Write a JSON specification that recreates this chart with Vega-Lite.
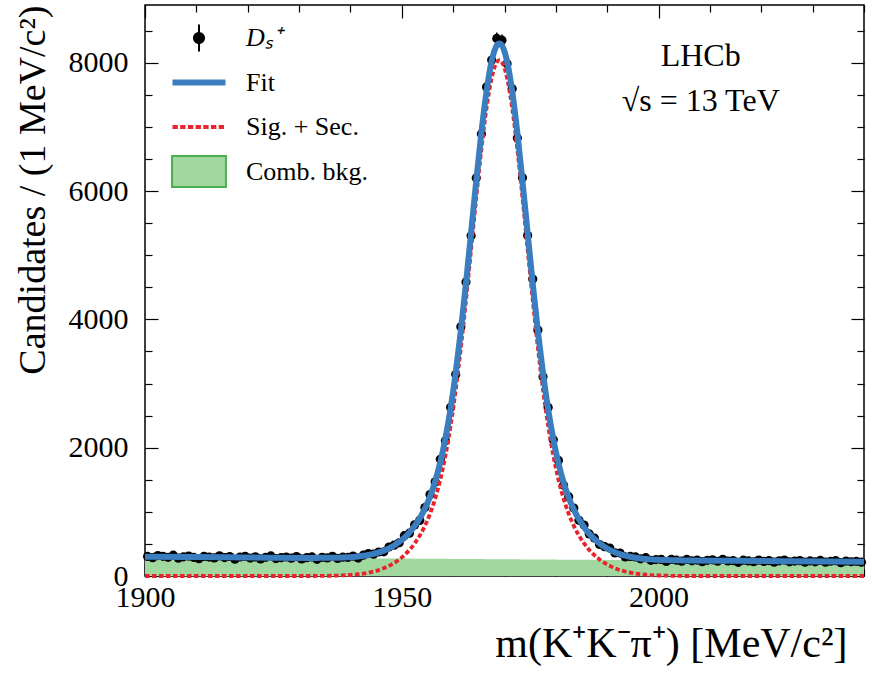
{
  "$schema": "https://vega.github.io/schema/vega-lite/v6.json",
  "width": 719,
  "height": 571,
  "autosize": "none",
  "padding": {"left": 145, "top": 5, "right": 8, "bottom": 103},
  "background": "white",
  "datasets": {
    "bins": [
      {"m":1900.5,"n":305,"err":17},{"m":1901.5,"n":285,"err":17},{"m":1902.5,"n":319,"err":18},{"m":1903.5,"n":307,"err":18},{"m":1904.5,"n":291,"err":17},
      {"m":1905.5,"n":324,"err":18},{"m":1906.5,"n":277,"err":17},{"m":1907.5,"n":299,"err":17},{"m":1908.5,"n":311,"err":18},{"m":1909.5,"n":290,"err":17},
      {"m":1910.5,"n":270,"err":16},{"m":1911.5,"n":306,"err":17},{"m":1912.5,"n":295,"err":17},{"m":1913.5,"n":282,"err":17},{"m":1914.5,"n":314,"err":18},
      {"m":1915.5,"n":288,"err":17},{"m":1916.5,"n":304,"err":17},{"m":1917.5,"n":261,"err":16},{"m":1918.5,"n":296,"err":17},{"m":1919.5,"n":306,"err":17},
      {"m":1920.5,"n":280,"err":17},{"m":1921.5,"n":298,"err":17},{"m":1922.5,"n":267,"err":16},{"m":1923.5,"n":292,"err":17},{"m":1924.5,"n":312,"err":18},
      {"m":1925.5,"n":271,"err":16},{"m":1926.5,"n":285,"err":17},{"m":1927.5,"n":296,"err":17},{"m":1928.5,"n":277,"err":17},{"m":1929.5,"n":302,"err":17},
      {"m":1930.5,"n":266,"err":16},{"m":1931.5,"n":286,"err":17},{"m":1932.5,"n":297,"err":17},{"m":1933.5,"n":260,"err":16},{"m":1934.5,"n":291,"err":17},
      {"m":1935.5,"n":282,"err":17},{"m":1936.5,"n":308,"err":18},{"m":1937.5,"n":274,"err":17},{"m":1938.5,"n":294,"err":17},{"m":1939.5,"n":289,"err":17},
      {"m":1940.5,"n":311,"err":18},{"m":1941.5,"n":279,"err":17},{"m":1942.5,"n":325,"err":18},{"m":1943.5,"n":349,"err":19},{"m":1944.5,"n":340,"err":18},
      {"m":1945.5,"n":374,"err":19},{"m":1946.5,"n":377,"err":19},{"m":1947.5,"n":452,"err":21},{"m":1948.5,"n":480,"err":22},{"m":1949.5,"n":517,"err":23},
      {"m":1950.5,"n":629,"err":25},{"m":1951.5,"n":668,"err":26},{"m":1952.5,"n":797,"err":28},{"m":1953.5,"n":867,"err":29},{"m":1954.5,"n":1067,"err":33},
      {"m":1955.5,"n":1270,"err":36},{"m":1956.5,"n":1467,"err":38},{"m":1957.5,"n":1818,"err":43},{"m":1958.5,"n":2108,"err":46},{"m":1959.5,"n":2628,"err":51},
      {"m":1960.5,"n":3139,"err":56},{"m":1961.5,"n":3886,"err":62},{"m":1962.5,"n":4583,"err":68},{"m":1963.5,"n":5304,"err":73},{"m":1964.5,"n":6205,"err":79},
      {"m":1965.5,"n":6888,"err":83},{"m":1966.5,"n":7623,"err":87},{"m":1967.5,"n":8041,"err":90},{"m":1968.5,"n":8379,"err":92},{"m":1969.5,"n":8351,"err":91},
      {"m":1970.5,"n":7986,"err":89},{"m":1971.5,"n":7595,"err":87},{"m":1972.5,"n":6826,"err":83},{"m":1973.5,"n":6208,"err":79},{"m":1974.5,"n":5306,"err":73},
      {"m":1975.5,"n":4629,"err":68},{"m":1976.5,"n":3834,"err":62},{"m":1977.5,"n":3107,"err":56},{"m":1978.5,"n":2628,"err":51},{"m":1979.5,"n":2124,"err":46},
      {"m":1980.5,"n":1801,"err":42},{"m":1981.5,"n":1415,"err":38},{"m":1982.5,"n":1237,"err":35},{"m":1983.5,"n":1060,"err":33},{"m":1984.5,"n":868,"err":29},
      {"m":1985.5,"n":795,"err":28},{"m":1986.5,"n":656,"err":26},{"m":1987.5,"n":591,"err":24},{"m":1988.5,"n":491,"err":22},{"m":1989.5,"n":457,"err":21},
      {"m":1990.5,"n":436,"err":21},{"m":1991.5,"n":359,"err":19},{"m":1992.5,"n":357,"err":19},{"m":1993.5,"n":298,"err":17},{"m":1994.5,"n":305,"err":17},
      {"m":1995.5,"n":297,"err":17},{"m":1996.5,"n":268,"err":16},{"m":1997.5,"n":285,"err":17},{"m":1998.5,"n":245,"err":16},{"m":1999.5,"n":256,"err":16},
      {"m":2000.5,"n":259,"err":16},{"m":2001.5,"n":228,"err":15},{"m":2002.5,"n":258,"err":16},{"m":2003.5,"n":247,"err":16},{"m":2004.5,"n":232,"err":15},
      {"m":2005.5,"n":258,"err":16},{"m":2006.5,"n":236,"err":15},{"m":2007.5,"n":249,"err":16},{"m":2008.5,"n":224,"err":15},{"m":2009.5,"n":245,"err":16},
      {"m":2010.5,"n":252,"err":16},{"m":2011.5,"n":230,"err":15},{"m":2012.5,"n":260,"err":16},{"m":2013.5,"n":234,"err":15},{"m":2014.5,"n":241,"err":16},
      {"m":2015.5,"n":214,"err":15},{"m":2016.5,"n":246,"err":16},{"m":2017.5,"n":235,"err":15},{"m":2018.5,"n":222,"err":15},{"m":2019.5,"n":249,"err":16},
      {"m":2020.5,"n":228,"err":15},{"m":2021.5,"n":241,"err":16},{"m":2022.5,"n":215,"err":15},{"m":2023.5,"n":237,"err":15},{"m":2024.5,"n":249,"err":16},
      {"m":2025.5,"n":221,"err":15},{"m":2026.5,"n":233,"err":15},{"m":2027.5,"n":241,"err":16},{"m":2028.5,"n":215,"err":15},{"m":2029.5,"n":235,"err":15},
      {"m":2030.5,"n":221,"err":15},{"m":2031.5,"n":243,"err":16},{"m":2032.5,"n":216,"err":15},{"m":2033.5,"n":230,"err":15},{"m":2034.5,"n":239,"err":15},
      {"m":2035.5,"n":207,"err":14},{"m":2036.5,"n":233,"err":15},{"m":2037.5,"n":222,"err":15},{"m":2038.5,"n":229,"err":15},{"m":2039.5,"n":215,"err":15}
    ],
    "model": [
      {"m":1900,"bkg":300.0,"sig":0,"fit":300.0},{"m":1910,"bkg":294.4,"sig":0,"fit":294.4},{"m":1920,"bkg":288.9,"sig":0,"fit":288.9},
      {"m":1932.5,"bkg":281.9,"sig":0,"fit":281.9},{"m":1933.5,"bkg":281.3,"sig":1,"fit":282.3},{"m":1934.5,"bkg":280.8,"sig":2,"fit":282.8},
      {"m":1935.5,"bkg":280.2,"sig":3,"fit":283.2},{"m":1936.5,"bkg":279.6,"sig":5,"fit":284.6},{"m":1937.5,"bkg":279.1,"sig":7,"fit":286.1},
      {"m":1938.5,"bkg":278.5,"sig":10,"fit":288.5},{"m":1939.5,"bkg":278.0,"sig":14,"fit":292.0},{"m":1940.5,"bkg":277.4,"sig":20,"fit":297.4},
      {"m":1941.5,"bkg":276.9,"sig":28,"fit":304.9},{"m":1942.5,"bkg":276.3,"sig":38,"fit":314.3},{"m":1943.5,"bkg":275.7,"sig":52,"fit":327.7},
      {"m":1944.5,"bkg":275.2,"sig":70,"fit":345.2},{"m":1945.5,"bkg":274.6,"sig":92,"fit":366.6},{"m":1946.5,"bkg":274.1,"sig":121,"fit":395.1},
      {"m":1947.5,"bkg":273.5,"sig":158,"fit":431.5},{"m":1948.5,"bkg":273.0,"sig":203,"fit":476.0},{"m":1949.5,"bkg":272.4,"sig":258,"fit":530.4},
      {"m":1950.5,"bkg":271.9,"sig":325,"fit":596.9},{"m":1951.5,"bkg":271.3,"sig":407,"fit":678.3},{"m":1952.5,"bkg":270.7,"sig":507,"fit":777.7},
      {"m":1953.5,"bkg":270.2,"sig":630,"fit":900.2},{"m":1954.5,"bkg":269.6,"sig":781,"fit":1050.6},{"m":1955.5,"bkg":269.1,"sig":969,"fit":1238.1},
      {"m":1956.5,"bkg":268.5,"sig":1206,"fit":1474.5},{"m":1957.5,"bkg":268.0,"sig":1504,"fit":1772.0},{"m":1958.5,"bkg":267.4,"sig":1878,"fit":2145.4},
      {"m":1959.5,"bkg":266.8,"sig":2341,"fit":2607.8},{"m":1960.5,"bkg":266.3,"sig":2901,"fit":3167.3},{"m":1961.5,"bkg":265.7,"sig":3558,"fit":3823.7},
      {"m":1962.5,"bkg":265.2,"sig":4297,"fit":4562.2},{"m":1963.5,"bkg":264.6,"sig":5091,"fit":5355.6},{"m":1964.5,"bkg":264.1,"sig":5894,"fit":6158.1},
      {"m":1965.5,"bkg":263.5,"sig":6649,"fit":6912.5},{"m":1966.5,"bkg":262.9,"sig":7291,"fit":7553.9},{"m":1967.5,"bkg":262.4,"sig":7761,"fit":8023.4},
      {"m":1968.5,"bkg":261.8,"sig":8008,"fit":8269.8},{"m":1969,"bkg":261.5,"sig":8040,"fit":8301.5},{"m":1969.5,"bkg":261.3,"sig":8008,"fit":8269.3},
      {"m":1970.5,"bkg":260.7,"sig":7761,"fit":8021.7},{"m":1971.5,"bkg":260.2,"sig":7291,"fit":7551.2},{"m":1972.5,"bkg":259.6,"sig":6649,"fit":6908.6},
      {"m":1973.5,"bkg":259.0,"sig":5894,"fit":6153.0},{"m":1974.5,"bkg":258.5,"sig":5091,"fit":5349.5},{"m":1975.5,"bkg":257.9,"sig":4297,"fit":4554.9},
      {"m":1976.5,"bkg":257.4,"sig":3558,"fit":3815.4},{"m":1977.5,"bkg":256.8,"sig":2901,"fit":3157.8},{"m":1978.5,"bkg":256.3,"sig":2341,"fit":2597.3},
      {"m":1979.5,"bkg":255.7,"sig":1878,"fit":2133.7},{"m":1980.5,"bkg":255.1,"sig":1504,"fit":1759.1},{"m":1981.5,"bkg":254.6,"sig":1206,"fit":1460.6},
      {"m":1982.5,"bkg":254.0,"sig":969,"fit":1223.0},{"m":1983.5,"bkg":253.5,"sig":781,"fit":1034.5},{"m":1984.5,"bkg":252.9,"sig":630,"fit":882.9},
      {"m":1985.5,"bkg":252.4,"sig":507,"fit":759.4},{"m":1986.5,"bkg":251.8,"sig":407,"fit":658.8},{"m":1987.5,"bkg":251.2,"sig":325,"fit":576.2},
      {"m":1988.5,"bkg":250.7,"sig":258,"fit":508.7},{"m":1989.5,"bkg":250.1,"sig":203,"fit":453.1},{"m":1990.5,"bkg":249.6,"sig":158,"fit":407.6},
      {"m":1991.5,"bkg":249.0,"sig":121,"fit":370.0},{"m":1992.5,"bkg":248.5,"sig":92,"fit":340.5},{"m":1993.5,"bkg":247.9,"sig":70,"fit":317.9},
      {"m":1994.5,"bkg":247.3,"sig":52,"fit":299.3},{"m":1995.5,"bkg":246.8,"sig":38,"fit":284.8},{"m":1996.5,"bkg":246.2,"sig":28,"fit":274.2},
      {"m":1997.5,"bkg":245.7,"sig":20,"fit":265.7},{"m":1998.5,"bkg":245.1,"sig":14,"fit":259.1},{"m":1999.5,"bkg":244.6,"sig":10,"fit":254.6},
      {"m":2000.5,"bkg":244.0,"sig":7,"fit":251.0},{"m":2001.5,"bkg":243.4,"sig":5,"fit":248.4},{"m":2002.5,"bkg":242.9,"sig":3,"fit":245.9},
      {"m":2003.5,"bkg":242.3,"sig":2,"fit":244.3},{"m":2004.5,"bkg":241.8,"sig":1,"fit":242.8},{"m":2005.5,"bkg":241.2,"sig":0,"fit":241.2},
      {"m":2015,"bkg":235.9,"sig":0,"fit":235.9},{"m":2025,"bkg":230.4,"sig":0,"fit":230.4},{"m":2040,"bkg":222.0,"sig":0,"fit":222.0}
    ],
    "items": [
      {"item": "Dₛ⁺"}, {"item": "Fit"}, {"item": "Sig. + Sec."}, {"item": "Comb. bkg."}
    ]
  },
  "layer": [
    {
      "data": {"name": "model"},
      "mark": {"type": "area", "interpolate": "monotone", "opacity": 1, "color": "#a0d8a0"},
      "encoding": {
        "x": {
          "field": "m", "type": "quantitative",
          "scale": {"domain": [1900, 2040], "nice": false, "zero": false},
          "axis": {
            "orient": "bottom",
            "values": [1900, 1910, 1920, 1930, 1940, 1950, 1960, 1970, 1980, 1990, 2000, 2010, 2020, 2030, 2040],
            "format": "d",
            "labelExpr": "datum.value % 50 === 0 ? datum.label : ''",
            "tickSize": {"condition": {"test": "datum.value % 50 === 0", "value": -13}, "value": -7},
            "labelPadding": 19,
            "labelFontSize": 30,
            "labelFlush": false,
            "labelOverlap": false,
            "title": "m(K⁺K⁻π⁺) [MeV/c²]",
            "titleFontSize": 42,
            "titleAnchor": "end",
            "titleAlign": "right",
            "titleX": 702,
            "titlePadding": 5
          }
        },
        "y": {
          "field": "bkg", "type": "quantitative",
          "scale": {"domain": [0, 8900], "nice": false},
          "axis": {
            "orient": "left",
            "values": [0, 500, 1000, 1500, 2000, 2500, 3000, 3500, 4000, 4500, 5000, 5500, 6000, 6500, 7000, 7500, 8000, 8500],
            "format": "d",
            "labelExpr": "datum.value % 2000 === 0 ? datum.label : ''",
            "tickSize": {"condition": {"test": "datum.value % 2000 === 0", "value": -13}, "value": -7},
            "labelPadding": 30,
            "labelFontSize": 30,
            "labelFlush": false,
            "labelOverlap": false,
            "title": "Candidates / (1 MeV/c²)",
            "titleFontSize": 38,
            "titleAnchor": "end",
            "titlePadding": 16
          }
        }
      }
    },
    {
      "data": {"name": "bins"},
      "mark": {"type": "errorbar", "color": "black", "thickness": 1.5},
      "encoding": {
        "x": {"field": "m", "type": "quantitative", "scale": {"domain": [1900, 2040], "nice": false, "zero": false}, "axis": null},
        "y": {"field": "n", "type": "quantitative", "scale": {"domain": [0, 8900], "nice": false}, "axis": null},
        "yError": {"field": "err"}
      }
    },
    {
      "data": {"name": "bins"},
      "mark": {"type": "point", "filled": true, "size": 85, "opacity": 1, "color": "black"},
      "encoding": {
        "x": {"field": "m", "type": "quantitative", "scale": {"domain": [1900, 2040], "nice": false, "zero": false}, "axis": null},
        "y": {"field": "n", "type": "quantitative", "scale": {"domain": [0, 8900], "nice": false}, "axis": null}
      }
    },
    {
      "data": {"name": "model"},
      "mark": {"type": "line", "interpolate": "monotone", "strokeWidth": 3.8, "strokeDash": [4.5, 2.5], "color": "#e8232b"},
      "encoding": {
        "x": {
          "field": "m", "type": "quantitative",
          "scale": {"domain": [1900, 2040], "nice": false, "zero": false},
          "axis": {
            "orient": "top",
            "values": [1900, 1910, 1920, 1930, 1940, 1950, 1960, 1970, 1980, 1990, 2000, 2010, 2020, 2030, 2040],
            "labels": false,
            "tickSize": {"condition": {"test": "datum.value % 50 === 0", "value": -13}, "value": -7},
            "title": null
          }
        },
        "y": {
          "field": "sig", "type": "quantitative",
          "scale": {"domain": [0, 8900], "nice": false},
          "axis": {
            "orient": "right",
            "values": [0, 500, 1000, 1500, 2000, 2500, 3000, 3500, 4000, 4500, 5000, 5500, 6000, 6500, 7000, 7500, 8000, 8500],
            "labels": false,
            "tickSize": {"condition": {"test": "datum.value % 2000 === 0", "value": -13}, "value": -7},
            "title": null
          }
        }
      }
    },
    {
      "data": {"name": "model"},
      "mark": {"type": "line", "interpolate": "monotone", "strokeWidth": 6, "color": "#3a7ebf"},
      "encoding": {
        "x": {"field": "m", "type": "quantitative", "scale": {"domain": [1900, 2040], "nice": false, "zero": false}, "axis": null},
        "y": {"field": "fit", "type": "quantitative", "scale": {"domain": [0, 8900], "nice": false}, "axis": null}
      }
    },
    {
      "data": {"values": [{}]},
      "mark": {
        "type": "text",
        "text": ["LHCb", "√s = 13 TeV"],
        "fontSize": 32,
        "align": "center",
        "baseline": "alphabetic",
        "lineHeight": 45,
        "color": "black"
      },
      "encoding": {
        "x": {"datum": 2008.2, "type": "quantitative", "scale": {"domain": [1900, 2040], "nice": false, "zero": false}, "axis": null},
        "y": {"datum": 7953, "type": "quantitative", "scale": {"domain": [0, 8900], "nice": false}, "axis": null}
      }
    },
    {
      "data": {"name": "items"},
      "mark": {"type": "point", "filled": true, "opacity": 0, "size": 1},
      "encoding": {
        "color": {
          "field": "item", "type": "nominal",
          "scale": {
            "domain": ["Dₛ⁺", "Fit", "Sig. + Sec.", "Comb. bkg."],
            "range": ["black", "#3a7ebf", "#e8232b", "#a0d8a0"]
          },
          "legend": {
            "orient": "none",
            "legendX": 41,
            "legendY": 20,
            "title": null,
            "padding": 0,
            "gridAlign": "all",
            "rowPadding": 4.5,
            "symbolSize": 1290,
            "symbolOpacity": 1,
            "symbolType": {"expr": "datum.value === 'Fit' || datum.value === 'Sig. + Sec.' ? 'M-1.475,0H1.475' : datum.value === 'Comb. bkg.' ? 'M-1.5,-0.87H1.5V0.87H-1.5Z' : 'M0,-0.75V0.75M-0.28,0A0.28,0.28 0 1,0 0.28,0A0.28,0.28 0 1,0 -0.28,0Z'"},
            "symbolStrokeColor": {"expr": "datum.value === 'Fit' ? '#3a7ebf' : datum.value === 'Sig. + Sec.' ? '#e8232b' : datum.value === 'Comb. bkg.' ? '#4cae4f' : 'black'"},
            "symbolStrokeWidth": {"expr": "datum.value === 'Fit' ? 6 : datum.value === 'Sig. + Sec.' ? 4 : 2"},
            "symbolDash": {"expr": "datum.value === 'Sig. + Sec.' ? [5.3, 2.4] : [1, 0]"},
            "labelFontSize": 26,
            "labelOffset": 34,
            "labelColor": "black",
            "labelFontStyle": {"expr": "datum.value === 'Fit' || datum.value === 'Sig. + Sec.' || datum.value === 'Comb. bkg.' ? 'normal' : 'italic'"}
          }
        }
      }
    }
  ],
  "resolve": {"axis": {"x": "independent", "y": "independent"}},
  "config": {
    "font": "Liberation Serif",
    "view": {"stroke": "black", "strokeWidth": 1.5},
    "axis": {
      "domain": false,
      "grid": false,
      "tickColor": "black",
      "tickWidth": 1.2,
      "labelColor": "black",
      "labelFont": "Liberation Serif",
      "titleFont": "Liberation Serif",
      "titleFontWeight": "normal",
      "titleColor": "black"
    },
    "legend": {
      "labelFont": "Liberation Serif"
    }
  }
}
